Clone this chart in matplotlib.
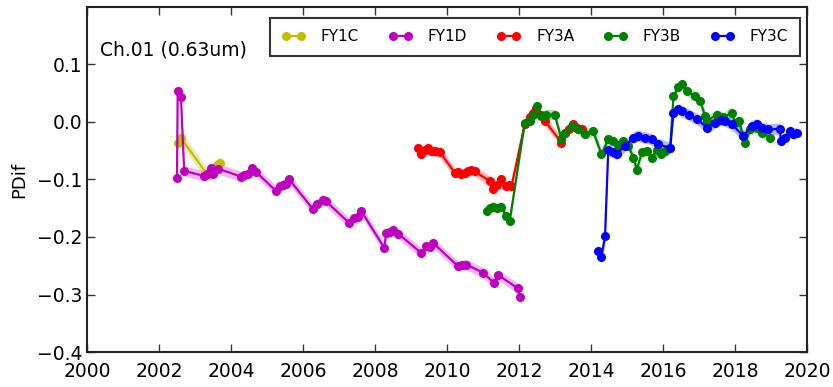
import matplotlib
matplotlib.use("Agg")
import matplotlib.pyplot as plt
import numpy as np

# ---------------- data ----------------
fy1c_x = [2002.52, 2002.60, 2003.35, 2003.45, 2003.60, 2003.70]
fy1c_y = [-0.036, -0.027, -0.092, -0.088, -0.075, -0.072]

fy1d_x = [2002.50, 2002.52, 2002.61, 2002.70, 2003.26, 2003.33, 2003.45, 2003.49,
          2003.63, 2004.28, 2004.36, 2004.46, 2004.58, 2004.70, 2005.25, 2005.35,
          2005.44, 2005.52, 2005.62, 2006.27, 2006.40, 2006.55, 2006.64, 2007.29,
          2007.43, 2007.52, 2007.62, 2008.26, 2008.31, 2008.42, 2008.50, 2008.64,
          2009.29, 2009.42, 2009.52, 2009.61, 2010.31, 2010.42, 2010.54, 2011.00,
          2011.31, 2011.42, 2011.96, 2012.02]
fy1d_y = [-0.097, 0.054, 0.043, -0.085, -0.094, -0.091, -0.080, -0.091,
          -0.081, -0.095, -0.093, -0.091, -0.080, -0.087, -0.120, -0.112,
          -0.109, -0.108, -0.100, -0.151, -0.142, -0.135, -0.138, -0.176,
          -0.167, -0.165, -0.155, -0.219, -0.193, -0.192, -0.187, -0.194,
          -0.228, -0.216, -0.218, -0.210, -0.251, -0.249, -0.248, -0.262,
          -0.280, -0.266, -0.289, -0.304]

fy3a_x = [2009.20, 2009.29, 2009.38, 2009.47, 2009.56, 2009.66, 2009.80, 2010.21,
          2010.30, 2010.40, 2010.50, 2010.59, 2010.68, 2010.77, 2011.19, 2011.28,
          2011.40, 2011.51, 2011.65, 2011.72, 2011.79, 2012.16, 2012.30, 2012.40,
          2012.48, 2012.60, 2012.72, 2013.18, 2013.28, 2013.40, 2013.51, 2013.62,
          2013.74]
fy3a_y = [-0.045, -0.056, -0.049, -0.045, -0.050, -0.051, -0.052, -0.088,
          -0.087, -0.091, -0.088, -0.086, -0.084, -0.086, -0.103, -0.117,
          -0.110, -0.100, -0.112, -0.110, -0.112, -0.004, 0.008, 0.015,
          0.025, 0.012, 0.002, -0.036, -0.019, -0.012, -0.004, -0.010,
          -0.013]

fy3b_x = [2011.12, 2011.19, 2011.28, 2011.40, 2011.51, 2011.65, 2011.74, 2012.16,
          2012.30, 2012.39, 2012.51, 2012.62, 2012.76, 2012.99, 2013.18, 2013.28,
          2013.46, 2013.65, 2013.83, 2014.06, 2014.29, 2014.48, 2014.62, 2014.76,
          2014.90, 2015.04, 2015.18, 2015.27, 2015.41, 2015.55, 2015.69, 2015.83,
          2015.95, 2016.06, 2016.20, 2016.29, 2016.43, 2016.52, 2016.66, 2016.89,
          2017.03, 2017.17, 2017.22, 2017.50, 2017.68, 2017.91, 2018.00, 2018.10,
          2018.23, 2018.28, 2018.42, 2018.60, 2018.74, 2018.97]
fy3b_y = [-0.155, -0.149, -0.147, -0.150, -0.147, -0.164, -0.173, -0.001,
          0.002, 0.013, 0.028, 0.010, 0.013, 0.013, -0.030, -0.019,
          -0.007, -0.013, -0.021, -0.016, -0.056, -0.030, -0.033, -0.040,
          -0.033, -0.042, -0.062, -0.083, -0.053, -0.051, -0.062, -0.048,
          -0.055, -0.051, -0.045, 0.045, 0.060, 0.066, 0.054, 0.045,
          0.037, 0.010, 0.002, 0.013, 0.008, 0.016, -0.001, 0.002,
          -0.024, -0.036, -0.013, -0.010, -0.019, -0.027]

fy3c_x = [2014.20, 2014.29, 2014.39, 2014.48, 2014.62, 2014.71, 2014.94, 2015.18,
          2015.31, 2015.50, 2015.69, 2015.87, 2016.20, 2016.29, 2016.43, 2016.52,
          2016.71, 2016.95, 2017.22, 2017.45, 2017.60, 2017.73, 2017.91, 2018.23,
          2018.47, 2018.60, 2018.74, 2018.93, 2019.25, 2019.27, 2019.39, 2019.53,
          2019.62, 2019.71]
fy3c_y = [-0.225, -0.234, -0.199, -0.048, -0.053, -0.056, -0.042, -0.027,
          -0.024, -0.027, -0.030, -0.039, -0.045, 0.016, 0.022, 0.019,
          0.013, 0.005, -0.010, -0.001, 0.004, 0.002, -0.004, -0.024,
          -0.007, -0.004, -0.010, -0.013, -0.012, -0.033, -0.027, -0.016,
          -0.021, -0.019]

series_names = ["FY1C", "FY1D", "FY3A", "FY3B", "FY3C"]
series_colors = ["#bfbf00", "#bf00bf", "#ff0000", "#008000", "#0000ff"]
series_band = [0.012, 0.009, 0.009, 0.009, 0.010]

title_text = "Ch.01 (0.63um)"
y_label = "PDif"

# ---------------- plot ----------------
fig = plt.figure(figsize=(8.33, 3.87), dpi=100, facecolor="white")
ax = fig.add_axes([0.1044, 0.0904, 0.8644, 0.8916])

data = [(fy1c_x, fy1c_y), (fy1d_x, fy1d_y), (fy3a_x, fy3a_y),
        (fy3b_x, fy3b_y), (fy3c_x, fy3c_y)]
for (xs, ys), name, col, band in zip(data, series_names, series_colors, series_band):
    xs = np.asarray(xs); ys = np.asarray(ys)
    ax.fill_between(xs, ys - band, ys + band, color=col, alpha=0.28, lw=0)
    ax.plot(xs, ys, "-o", color=col, mec=col, mfc=col, ms=5.5, lw=1.6, label=name)

ax.set_xlim(2000, 2020)
ax.set_ylim(-0.4, 0.2)
ax.set_xticks(np.arange(2000, 2021, 2))
ax.set_yticks([-0.4, -0.3, -0.2, -0.1, 0.0, 0.1])
ax.set_yticklabels(["\u22120.4", "\u22120.3", "\u22120.2", "\u22120.1", "0.0", "0.1"])
ax.tick_params(direction="in", top=True, right=True, length=6, width=1,
               colors="#333333", labelsize=13.5, labelcolor="black")
ax.tick_params(axis="x", pad=7)
for s in ax.spines.values():
    s.set_linewidth(1.5)
    s.set_color("#222222")

ax.set_ylabel(y_label, fontsize=13, labelpad=6)
ax.text(0.018, 0.876, title_text, transform=ax.transAxes, fontsize=13.5,
        ha="left", va="center")

leg = ax.legend(loc="upper right", ncol=5, numpoints=2, fontsize=11,
                frameon=True, fancybox=False, borderpad=0.75, handlelength=1.6,
                handletextpad=1.0, columnspacing=1.9,
                bbox_to_anchor=(0.990, 0.968), borderaxespad=0)
leg.get_frame().set_edgecolor("black")
leg.get_frame().set_linewidth(1.5)

fig.savefig("out.png", dpi=100, facecolor="white")
